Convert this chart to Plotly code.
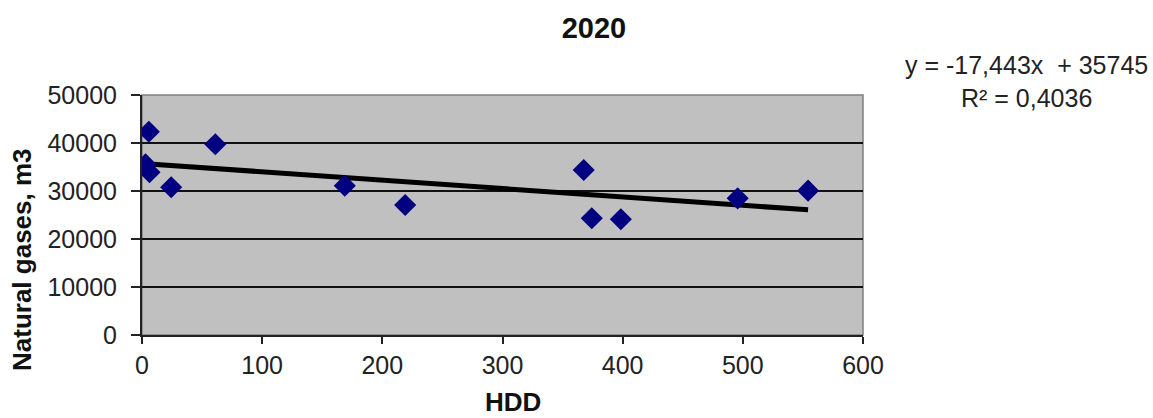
import plotly.graph_objects as go

# Data
hdd = [2.9, 5.7, 6.25, 24.3, 61, 168.75, 219, 367.6, 374.3, 398.5, 495.7, 554.3]
gas = [35560, 42350, 33900, 30770, 39730, 31100, 27080, 34380, 24310, 24100, 28470, 30070]

# Linear trend shown on the chart
slope = -17.443
intercept = 35745
r2 = "0,4036"

x_ticks = [0, 100, 200, 300, 400, 500, 600]
y_ticks = [0, 10000, 20000, 30000, 40000, 50000]

title_text = "2020"
x_title = "HDD"
y_title = "Natural gases, m3"
eq_text = "y = -17,443x  + 35745<br>R² = " + r2

FONT = "Liberation Sans, Arial, sans-serif"

trend_x = [min(hdd), max(hdd)]
trend_y = [slope * v + intercept for v in trend_x]

fig = go.Figure()
fig.add_trace(go.Scatter(
    x=trend_x, y=trend_y, mode="lines",
    line=dict(color="black", width=5),
    showlegend=False, hoverinfo="skip",
))
fig.add_trace(go.Scatter(
    x=hdd, y=gas, mode="markers",
    marker=dict(symbol="diamond", size=17, color="#000080", line=dict(width=0)),
    showlegend=False,
))

W, H = 1153, 418
L, R, T, B = 142, 290, 95, 83

fig.update_layout(
    width=W, height=H,
    margin=dict(l=L, r=R, t=T, b=B, autoexpand=False),
    paper_bgcolor="white",
    plot_bgcolor="#c0c0c0",
    font=dict(family=FONT, size=25, color="#222222"),
    title=dict(text="<b>" + title_text + "</b>", x=594 / W, xref="container",
               xanchor="center", y=1 - 28 / H, yref="container", yanchor="middle",
               font=dict(family=FONT, size=29, color="#111111")),
    xaxis=dict(
        range=[0, 600], tickvals=x_ticks, ticktext=[str(v) for v in x_ticks],
        automargin=False,
        showgrid=False, zeroline=False,
        showline=True, linecolor="#222222", linewidth=2,
        ticks="outside", ticklen=7, tickwidth=1.5, tickcolor="#222222",
        tickfont=dict(family=FONT, size=25, color="#222222"),
    ),
    yaxis=dict(
        range=[0, 50000], tickvals=y_ticks, ticktext=[str(v) for v in y_ticks],
        automargin=False,
        showgrid=True, gridcolor="#111111", gridwidth=1.5,
        zeroline=False,
        showline=True, linecolor="#222222", linewidth=2,
        ticks="outside", ticklen=9, tickwidth=1.5, tickcolor="#222222",
        ticklabelstandoff=9,
        tickfont=dict(family=FONT, size=25, color="#222222"),
    ),
    shapes=[dict(type="rect", xref="paper", yref="paper", x0=0, x1=1, y0=0, y1=1,
                 line=dict(color="#808080", width=1.5), layer="below")],
    annotations=[
        dict(text="<b>" + y_title + "</b>", textangle=-90,
             xref="paper", yref="paper",
             x=(22 - L) / (W - L - R), y=(H - B - 260) / (H - T - B),
             xanchor="center", yanchor="middle", showarrow=False,
             font=dict(family=FONT, size=26, color="#111111")),
        dict(text="<b>" + x_title + "</b>",
             xref="paper", yref="paper",
             x=(513 - L) / (W - L - R), y=(H - B - 402) / (H - T - B),
             xanchor="center", yanchor="middle", showarrow=False,
             font=dict(family=FONT, size=26, color="#111111")),
        dict(text=eq_text, xref="paper", yref="paper",
             x=(1026 - L) / (W - L - R), y=(H - B - 81) / (H - T - B),
             xanchor="center", yanchor="middle", align="center", showarrow=False,
             font=dict(family=FONT, size=25, color="#222222")),
    ],
)

fig.write_html("out.html", config={"displayModeBar": False})

# remove the browser's default page margin so the figure sits at the window origin
with open("out.html", "r", encoding="utf-8") as f:
    html = f.read()
html = html.replace("<head>", "<head><style>html,body{margin:0;padding:0;overflow:hidden;}</style>", 1)
with open("out.html", "w", encoding="utf-8") as f:
    f.write(html)
